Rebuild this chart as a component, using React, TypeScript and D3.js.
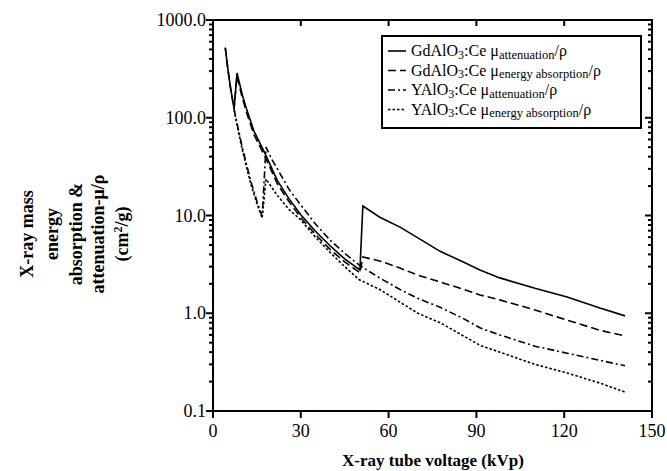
import React from "react";
import * as d3 from "d3";

const W = 667;
const H = 471;

// ---- data ----
const xTicks = [0, 30, 60, 90, 120, 150];
const yMajor = [0.1, 1, 10, 100, 1000];
const yTickLabels = ["0.1", "1.0", "10.0", "100.0", "1000.0"];

const gdAttKvp = [4.2, 5, 6, 7.2, 8.2, 10, 11.6, 14, 17.8, 22, 26, 30, 35, 40, 45, 50.2, 51.2, 57, 63.9, 70, 77.6, 85, 91.2, 98, 110, 121, 132.2, 140.8];
const gdAttVal = [520, 327, 201, 123, 287, 172, 119, 73, 43, 22.7, 14.8, 10.2, 6.9, 4.9, 3.6, 2.77, 12.5, 9.6, 7.6, 5.9, 4.3, 3.4, 2.77, 2.3, 1.8, 1.47, 1.13, 0.94];

const gdEnKvp = [4.2, 5, 6, 7.2, 8.2, 10, 11.6, 14, 17.8, 22, 26, 30, 35, 40, 45, 50.2, 51.2, 57, 63.9, 70, 77.6, 85, 91.2, 98, 110, 121, 132.2, 140.8];
const gdEnVal = [520, 327, 201, 123, 268, 160, 110, 67, 40, 21, 13.8, 9.5, 6.4, 4.5, 3.35, 2.6, 3.76, 3.43, 2.9, 2.45, 2.09, 1.78, 1.54, 1.37, 1.08, 0.85, 0.67, 0.585];

const yAttKvp = [7.2, 8.5, 10, 11.5, 13, 15, 16.8, 18.1, 20, 22, 26, 30, 35, 40, 45, 50, 57, 63.9, 70, 77.6, 85, 91.2, 98, 110, 121, 132.2, 140.8];
const yAttVal = [123, 80, 50, 33, 22, 14, 9.7, 50, 38, 30, 18.5, 12.8, 8.2, 5.6, 4.1, 3.1, 2.29, 1.75, 1.42, 1.15, 0.9, 0.71, 0.6, 0.46, 0.39, 0.33, 0.29];

const yEnKvp = [7.2, 8.5, 10, 11.5, 13, 15, 16.8, 18.1, 20, 22, 26, 30, 35, 40, 45, 50, 57, 63.9, 70, 77.6, 85, 91.2, 98, 110, 121, 132.2, 140.8];
const yEnVal = [120, 77, 47, 31, 20.5, 13.2, 9.4, 23.6, 19.5, 16, 11.5, 9.0, 6.0, 4.2, 3.0, 2.2, 1.75, 1.3, 1.0, 0.8, 0.6, 0.47, 0.4, 0.3, 0.245, 0.193, 0.156];

const seriesNames = ["GdAlO", "GdAlO", "YAlO", "YAlO"];
const seriesSubs = ["attenuation", "energy absorption", "attenuation", "energy absorption"];

export default function App() {
  const left = 213, right = 652, top = 20, bottom = 411;
  const x = d3.scaleLinear().domain([0, 150]).range([left, right]);
  const y = d3.scaleLog().domain([0.1, 1000]).range([bottom, top]);

  const line = d3
    .line<[number, number]>()
    .x((d) => x(d[0]))
    .y((d) => y(d[1]));

  const mk = (k: number[], v: number[]) => k.map((kk, i) => [kk, v[i]] as [number, number]);
  const series = [
    { d: mk(gdAttKvp, gdAttVal), dash: "none" },
    { d: mk(gdEnKvp, gdEnVal), dash: "8,4" },
    { d: mk(yAttKvp, yAttVal), dash: "7,3,2,3" },
    { d: mk(yEnKvp, yEnVal), dash: "2.5,2" },
  ];

  const minor: number[] = [];
  for (let e = -1; e < 3; e++) {
    for (let m = 2; m <= 9; m++) minor.push(m * Math.pow(10, e));
  }

  const font = "'Liberation Serif', 'Times New Roman', serif";
  const legX = 382, legY = 36, legW = 259, legH = 92;
  const rowBase = [56, 75.5, 95, 114.5];

  return (
    <svg
      width={W}
      height={H}
      style={{ position: "absolute", left: 0, top: 0, background: "#fff" }}
      fontFamily={font}
    >
      <rect x={0} y={0} width={W} height={H} fill="#fff" />
      {/* curves */}
      <g fill="none" stroke="#000" strokeWidth={1.6}>
        {series.map((s, i) => (
          <path key={i} d={line(s.d) || ""} strokeDasharray={s.dash} />
        ))}
      </g>
      {/* frame */}
      <rect x={left} y={top} width={right - left} height={bottom - top} fill="none" stroke="#000" strokeWidth={2} />
      {/* y ticks left and right (pointing left) */}
      <g stroke="#000" strokeWidth={2}>
        {yMajor.map((v, i) => (
          <g key={"ym" + i}>
            <line x1={left - 7} x2={left} y1={y(v)} y2={y(v)} />
            <line x1={right - 7} x2={right} y1={y(v)} y2={y(v)} />
          </g>
        ))}
        {minor.map((v, i) => (
          <g key={"yn" + i}>
            <line x1={left - 4} x2={left} y1={y(v)} y2={y(v)} />
            <line x1={right - 4} x2={right} y1={y(v)} y2={y(v)} />
          </g>
        ))}
        {xTicks.map((v, i) => (
          <g key={"xt" + i}>
            <line x1={x(v)} x2={x(v)} y1={bottom} y2={bottom + 7} />
            <line x1={x(v)} x2={x(v)} y1={top} y2={top + 6} />
          </g>
        ))}
      </g>
      {/* tick labels */}
      <g fontSize={18} fill="#000">
        {yMajor.map((v, i) => (
          <text key={"yl" + i} x={206} y={y(v)} dy="0.34em" textAnchor="end">
            {yTickLabels[i]}
          </text>
        ))}
        {xTicks.map((v, i) => (
          <text key={"xl" + i} x={x(v)} y={437} textAnchor="middle">
            {String(v)}
          </text>
        ))}
      </g>
      {/* axis titles */}
      <text x={433} y={466} textAnchor="middle" fontSize={17} fontWeight="bold">
        X-ray tube voltage (kVp)
      </text>
      <g transform="translate(0,234) rotate(-90)" fontSize={18} fontWeight="bold" textAnchor="middle">
        <text x={0} y={33}>X-ray mass</text>
        <text x={0} y={58}>energy</text>
        <text x={0} y={82}>absorption &amp;</text>
        <text x={0} y={104}>attenuation-μ/ρ</text>
        <text x={0} y={128}>
          (cm<tspan dy={-6} fontSize={12}>2</tspan>
          <tspan dy={6}>/g)</tspan>
        </text>
      </g>
      {/* legend */}
      <rect x={legX} y={legY} width={legW} height={legH} fill="#fff" stroke="#000" strokeWidth={2} />
      {series.map((s, i) => (
        <g key={"lg" + i}>
          <line
            x1={388}
            x2={406}
            y1={rowBase[i] - 5}
            y2={rowBase[i] - 5}
            stroke="#000"
            strokeWidth={1.6}
            strokeDasharray={s.dash}
          />
          <text x={411} y={rowBase[i]} fontSize={16}>
            {seriesNames[i]}
            <tspan dy={2.5} fontSize={12}>3</tspan>
            <tspan dy={-2.5}>:Ce μ</tspan>
            <tspan dy={2.5} fontSize={12.5}>{seriesSubs[i]}</tspan>
            <tspan dy={-2.5}>/ρ</tspan>
          </text>
        </g>
      ))}
    </svg>
  );
}
